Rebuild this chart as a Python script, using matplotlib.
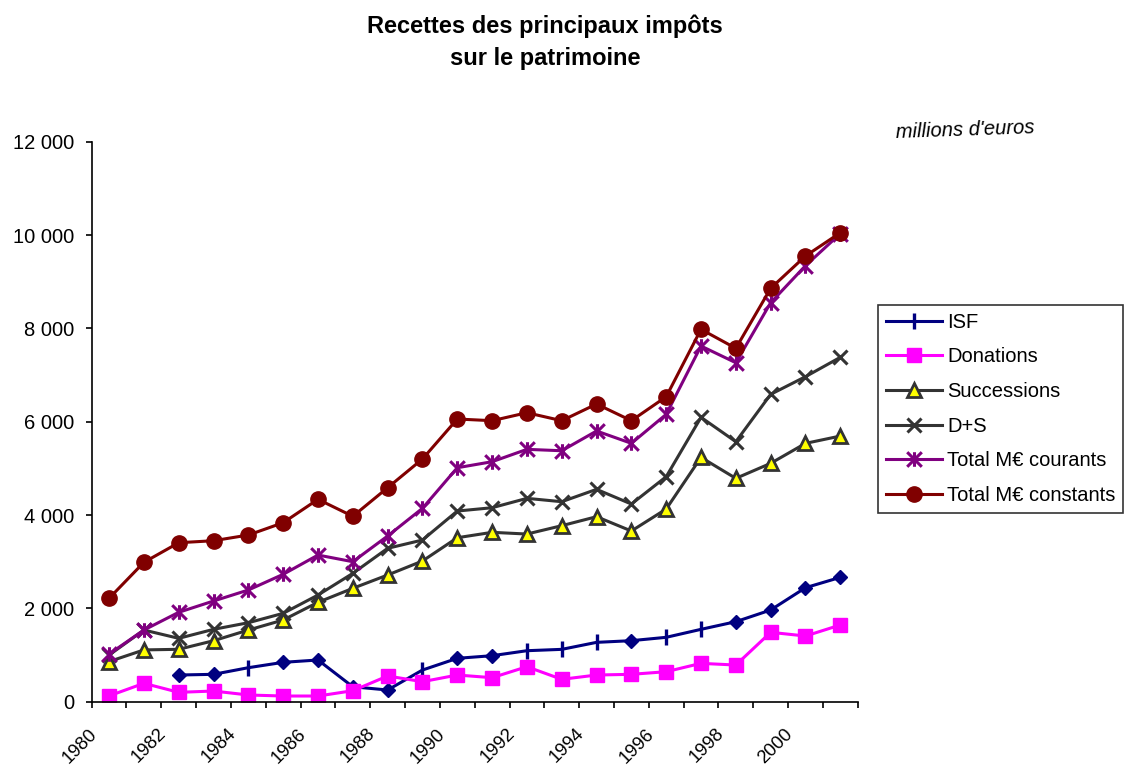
import numpy as np
import matplotlib
matplotlib.use("Agg")
import matplotlib.pyplot as plt
from matplotlib.lines import Line2D
from matplotlib.path import Path
from matplotlib.ticker import FuncFormatter

plt.rcParams['font.family'] = ['Liberation Sans', 'DejaVu Sans']

# recettes en millions d'euros, 1980-2001
years = list(range(1980, 2002))
isf = [np.nan, np.nan, 572, 587, 729, 844, 894, 320, 251, 679, 930, 986,
       1093, 1122, 1272, 1308, 1380, 1551, 1715, 1965, 2443, 2665]
donations = [125, 394, 201, 229, 144, 122, 122, 236, 551, 429, 572, 515,
             750, 480, 572, 587, 643, 822, 786, 1487, 1408, 1644]
successions = [860, 1110, 1123, 1307, 1536, 1751, 2130, 2430, 2715, 3015, 3514, 3630,
               3593, 3772, 3965, 3658, 4129, 5236, 4786, 5108, 5536, 5693]
d_plus_s = [1000, 1536, 1358, 1551, 1693, 1894, 2286, 2751, 3287, 3465, 4086, 4157,
            4358, 4286, 4551, 4236, 4822, 6094, 5572, 6587, 6965, 7380]
total_courants = [1020, 1536, 1916, 2158, 2394, 2730, 3143, 3000, 3551, 4144, 5014, 5143,
                  5408, 5378, 5801, 5537, 6158, 7622, 7264, 8550, 9343, 10030]
total_constants = [2216, 2987, 3407, 3450, 3572, 3836, 4337, 3973, 4586, 5201, 6058, 6022,
                   6193, 6022, 6379, 6022, 6536, 7980, 7573, 8858, 9551, 10050]

# ISF points drawn with a diamond, the others with a plus
isf_diamond_years = [1982, 1983, 1985, 1986, 1987, 1988, 1990, 1991, 1995, 1998, 1999, 2000, 2001]

labels = ['ISF', 'Donations', 'Successions', 'D+S', 'Total M€ courants', 'Total M€ constants']

NAVY = '#000080'
MAGENTA = '#FF00FF'
GREY = '#333333'
PURPLE = '#800080'
DARKRED = '#800000'
YELLOW = '#FFFF00'

# Excel-style asterisk: X with a vertical bar
star = Path([(0, -1), (0, 1), (-1, -1), (1, 1), (-1, 1), (1, -1)],
            [Path.MOVETO, Path.LINETO, Path.MOVETO, Path.LINETO, Path.MOVETO, Path.LINETO])

x = np.arange(len(years))
isf_arr = np.array(isf, dtype=float)
dia_idx = [years.index(y) for y in isf_diamond_years]
plus_idx = [i for i in range(len(years)) if i not in dia_idx and not np.isnan(isf_arr[i])]

fig = plt.figure(figsize=(11.29, 7.69), dpi=100)
ax = fig.add_axes([0.0812, 0.0875, 0.6785, 0.7282])

lw = 2.2
styles = [
    dict(color=NAVY, marker='|', ms=11, mew=2.4),
    dict(color=MAGENTA, marker='s', ms=10.5),
    dict(color=GREY, marker='^', ms=10, mfc=YELLOW, mec=GREY, mew=2),
    dict(color=GREY, marker='x', ms=10, mew=2.2),
    dict(color=PURPLE, marker=star, ms=10.5, mew=2.2, mfc='none'),
    dict(color=DARKRED, marker='o', ms=11),
]

ax.plot(x, isf_arr, lw=lw, markevery=plus_idx, **styles[0])
ax.plot(x[dia_idx], isf_arr[dia_idx], ls='none', marker='D', ms=7.5, color=NAVY)
for vals, st in zip([donations, successions, d_plus_s, total_courants, total_constants], styles[1:]):
    ax.plot(x, vals, lw=lw, **st)

ax.set_yticks(range(0, 12001, 2000))
ax.yaxis.set_major_formatter(FuncFormatter(lambda v, p: f"{int(v):,}".replace(',', ' ')))

# tick marks between categories, year labels every other year
bounds = np.arange(len(years) + 1) - 0.5
ax.set_xticks(bounds)
ax.set_xticklabels([])
for k in range(0, len(years), 2):
    ax.text(bounds[k] - 0.1, -0.042, str(years[k]), transform=ax.get_xaxis_transform(),
            rotation=45, ha='right', va='top', rotation_mode='anchor',
            fontsize=13.3, clip_on=False)

ax.set_xlim(-0.5, len(years) - 0.5)
ax.set_ylim(0, 12000)

for s in ['top', 'right']:
    ax.spines[s].set_visible(False)
for s in ['left', 'bottom']:
    ax.spines[s].set_linewidth(1.2)
ax.tick_params(axis='both', which='major', direction='out', length=4.5, width=1.2,
               labelsize=14.5, color='black')
ax.tick_params(axis='y', pad=8)

handles = [Line2D([], [], lw=lw, **st) for st in styles]
leg = fig.legend(handles, labels, loc='upper left', bbox_to_anchor=(878 / 1129, 1 - 305 / 769),
                 fontsize=14.5, frameon=True, fancybox=False, borderaxespad=0,
                 handlelength=2.8, handletextpad=0.25, labelspacing=0.78,
                 borderpad=0.38, edgecolor='black')
leg.get_frame().set_linewidth(1.2)

fig.text(545 / 1129, 1 - 33 / 769, "Recettes des principaux impôts",
         ha='center', va='baseline', fontsize=17, fontweight='bold')
fig.text(545 / 1129, 1 - 65 / 769, "sur le patrimoine",
         ha='center', va='baseline', fontsize=17, fontweight='bold')
fig.text(965 / 1129, 1 - 130 / 769, "millions d'euros", ha='center', va='center',
         fontsize=14.5, style='italic', rotation=2)

fig.savefig('out.png', dpi=100)
